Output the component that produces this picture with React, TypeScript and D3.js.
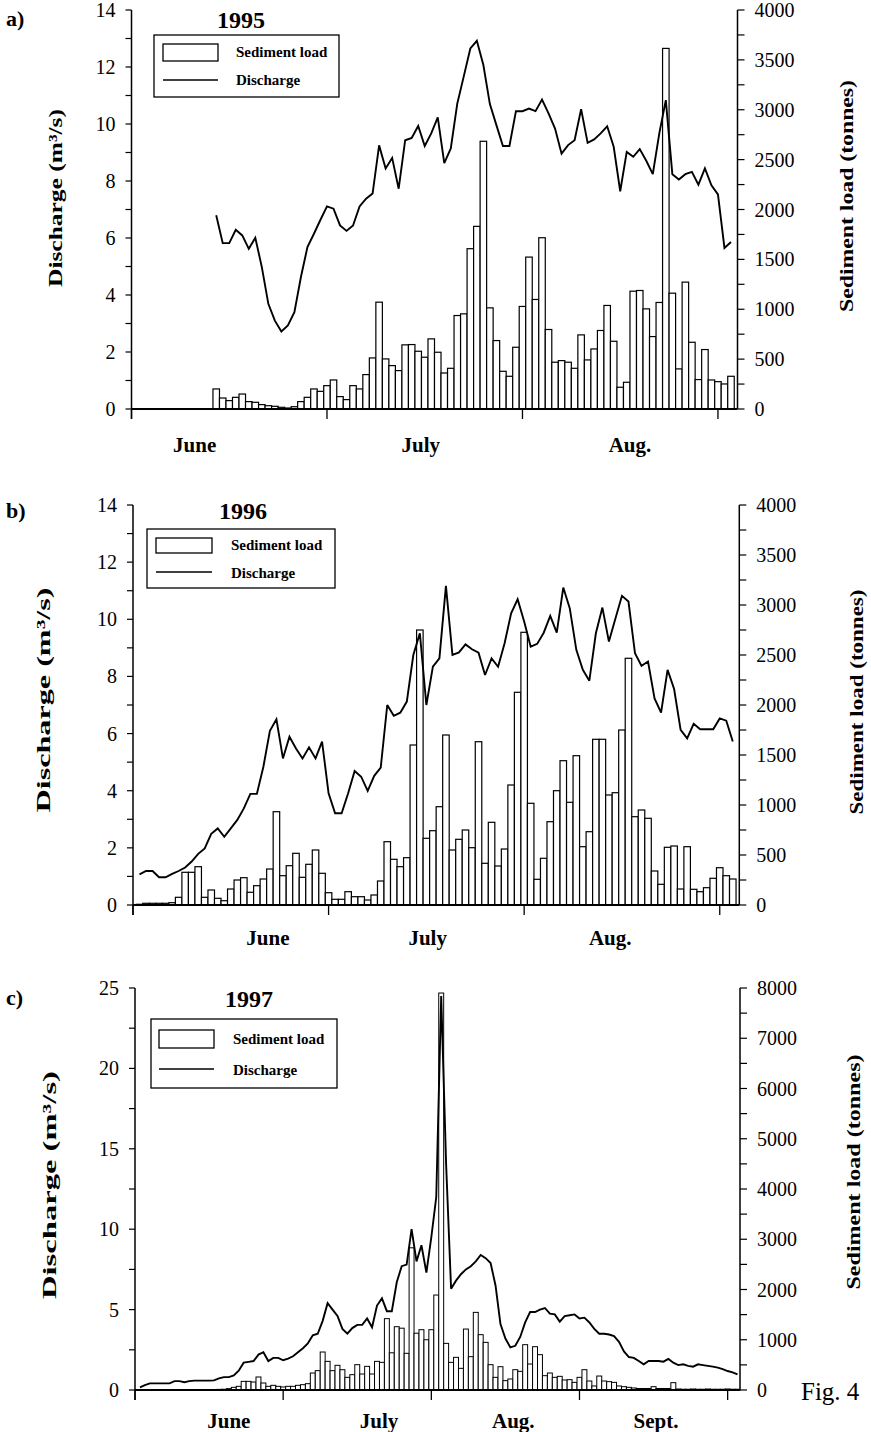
import React from "react";
import * as d3 from "d3";

// ---------- DATA ----------
// 1995: daily values, first bar = day 13 (day 0 = June 1)
const firstDay1995 = 13;
const sediment1995 = [
  201, 110, 84, 117, 150, 74, 67, 44, 33, 27, 17, 10, 23, 74, 117, 201, 177, 234, 291, 124,
  94, 234, 201, 345, 512, 1071, 502, 435, 385, 643, 646, 579, 519, 703, 569,
  361, 408, 937, 954, 1607, 1831, 2684, 1014, 686, 378, 328, 619, 1028, 1523, 1098,
  1717, 797, 469, 485, 469, 408, 743, 492, 602, 787, 1038, 679, 218, 268, 1181, 1188,
  1004, 726, 1068, 3615, 1161, 402, 1272, 669, 295, 596, 291, 274, 251, 328,
];
const discharge1995 = [
  6.8, 5.82, 5.82, 6.29, 6.09, 5.62, 6.01, 4.98, 3.69, 3.1, 2.72, 2.93, 3.4, 4.63, 5.68,
  6.15, 6.64, 7.11, 7.03, 6.44, 6.25, 6.44, 7.11, 7.38, 7.56, 9.25, 8.44, 8.81, 7.73, 9.43,
  9.51, 9.93, 9.23, 9.67, 10.23, 8.63, 9.14, 10.72, 11.68, 12.65, 12.92, 12.07, 10.7, 9.96,
  9.23, 9.23, 10.45, 10.45, 10.54, 10.45, 10.86, 10.37, 9.84, 8.96, 9.26, 9.43, 10.52, 9.34,
  9.46, 9.67, 9.92, 9.2, 7.64, 9.02, 8.85, 9.12, 8.71, 8.24, 9.67, 10.84, 8.24, 8.05, 8.24,
  8.32, 7.87, 8.44, 7.85, 7.53, 5.65, 5.86,
];

// 1996: first bar = day 1
const firstDay1996 = 1;
const sediment1996 = [
  7, 17, 17, 17, 17, 23, 77, 327, 327, 383, 77, 150, 67, 43, 160, 250, 273, 127, 193, 260,
  360, 933, 293, 393, 517, 277, 407, 550, 317, 123, 57, 57, 133, 83, 83, 50, 100, 240, 633, 457,
  383, 473, 1600, 2750, 667, 743, 983,
  1700, 550, 657, 750, 573, 1633, 417, 827, 390, 560, 1200, 2127, 2727, 1017, 257, 467, 833,
  1143, 1443, 1027, 1493, 583, 733, 1657, 1657, 1100, 1123, 1750, 2467, 883, 950, 867, 340,
  207, 577, 590, 160, 583, 157, 133, 173, 267, 373, 293, 260,
];
const discharge1996 = [
  1.07, 1.19, 1.19, 0.97, 0.97, 1.09, 1.19, 1.31, 1.52, 1.79, 1.98, 2.49, 2.68, 2.39, 2.68,
  2.98, 3.38, 3.89, 3.89, 4.84, 6.1, 6.5, 5.13, 5.89, 5.48, 5.13, 5.52, 5.13, 5.72, 3.91,
  3.21, 3.21, 3.91, 4.69, 4.49, 3.99, 4.52, 4.81, 7.0, 6.62, 6.73, 7.12, 8.75, 9.51, 7.0,
  8.34, 8.63, 11.17, 8.75, 8.84, 9.12, 8.95, 8.83, 8.05, 8.63, 8.34, 9.16, 10.21, 10.7, 9.92,
  9.04, 9.14, 9.53, 10.12, 9.53, 11.11, 10.38, 8.93, 8.23, 7.85, 9.51, 10.41, 9.22, 10.03,
  10.82, 10.62, 8.81, 8.37, 8.52, 7.23, 6.73, 8.23, 7.56, 6.13, 5.83, 6.34, 6.15, 6.15, 6.15,
  6.53, 6.45, 5.72,
];

// 1997: first bar = day 1
const firstDay1997 = 1;
const sediment1997 = [
  5, 5, 5, 5, 5, 5, 5, 5, 5, 5, 5, 5, 8, 8, 8, 10, 12, 15,
  27, 53, 73, 172, 172, 159, 259, 139, 73, 93, 73, 60,
  73, 73, 93, 106, 126, 338, 385, 756, 570, 385, 491, 404, 252, 305, 504, 318, 471, 318, 570, 550,
  1420, 740, 1260, 1230, 730, 2830, 1130, 1200, 1000, 1200, 1890, 7900,
  928, 550, 650, 431, 1213, 663, 1545, 1101, 948, 504, 252, 464, 186, 219, 404, 371, 902, 517,
  862, 703, 285, 338, 252, 272, 199, 206, 152, 252, 404,
  179, 80, 278, 179, 166, 152, 80, 66, 53, 40, 30, 30, 30, 66, 30, 30, 30, 146,
  20, 15, 15, 20, 15, 15, 20, 15, 15, 15, 20, 15, 15,
];
const discharge1997 = [
  0.17, 0.3, 0.41, 0.41, 0.41, 0.41, 0.41, 0.55, 0.55, 0.48,
  0.55, 0.58, 0.58, 0.58, 0.58, 0.6, 0.72, 0.8, 0.8, 0.9,
  1.2, 1.7, 1.75, 1.8, 2.2, 2.35, 1.8, 2.0, 2.0, 1.85,
  1.95, 2.1, 2.35, 2.6, 2.9, 3.4, 3.5, 4.3, 5.4, 5.0,
  4.6, 3.8, 3.5, 3.85, 4.05, 4.05, 4.45, 3.9, 5.25, 5.7,
  4.9, 4.9, 6.7, 7.7, 7.8, 10.0, 8.0, 9.0, 7.3, 9.5,
  12.0, 24.5, 14, 6.3, 6.8, 7.2, 7.5, 7.7, 8.0, 8.4,
  8.2, 7.9, 6.5, 4.1, 3.2, 2.65, 2.75, 3.3, 4.2, 4.85,
  4.85, 5.0, 5.1, 4.75, 4.7, 4.25, 4.6, 4.65, 4.7, 4.45,
  4.5, 4.2, 3.8, 3.5, 3.5, 3.45, 3.35, 3.0, 2.4, 2.05,
  2.0, 1.8, 1.6, 1.8, 1.8, 1.8, 1.76, 1.93, 1.7, 1.55,
  1.6, 1.5, 1.45, 1.6, 1.55, 1.5, 1.45, 1.39, 1.3, 1.18,
  1.1, 0.97,
];

const months3 = ["June", "July", "Aug."];
const months4 = ["June", "July", "Aug.", "Sept."];
const monthTicks3 = [0, 30, 60, 90];
const monthTicks4 = [0, 30, 60, 90, 120];
const leftLabels14 = [0, 2, 4, 6, 8, 10, 12, 14];
const rightLabels4000 = [0, 500, 1000, 1500, 2000, 2500, 3000, 3500, 4000];
const leftLabels25 = [0, 5, 10, 15, 20, 25];
const rightLabels8000 = [0, 1000, 2000, 3000, 4000, 5000, 6000, 7000, 8000];

// ---------- LAYOUT ----------
const FONT = "'Liberation Serif','Times New Roman',Times,serif";

const panels = [
  {
    id: "a", tag: "a)", tagY: 26, year: "1995",
    sediment: sediment1995, discharge: discharge1995, firstDay: firstDay1995,
    x0: 131.5, x1: 737.5, dayMax: 93, yTop: 10, yBot: 409,
    leftMax: 14, rightMax: 4000, leftMinor: 1, rightMinor: 250,
    leftLabels: leftLabels14, rightLabels: rightLabels4000,
    months: months3, monthTicks: monthTicks3, monthPos: [9.7, 44.4, 76.5], monthY: 452,
    legend: { bx: 154, by: 35, bw: 185, bh: 62, sx: 163, sy: 44, sw: 55, sh: 17, ly: 80, tx: 236, t1: 57, t2: 85 },
    yearX: 241, yearY: 28,
    leftTitle: { x: 55, y: 198, len: 178 }, rightTitle: { x: 846, y: 196, len: 232 },
    barStroke: 1.2,
  },
  {
    id: "b", tag: "b)", tagY: 518, year: "1996",
    sediment: sediment1996, discharge: discharge1996, firstDay: firstDay1996,
    x0: 133, x1: 739.3, dayMax: 93, yTop: 505, yBot: 905,
    leftMax: 14, rightMax: 4000, leftMinor: 1, rightMinor: 250,
    leftLabels: leftLabels14, rightLabels: rightLabels4000,
    months: months3, monthTicks: monthTicks3, monthPos: [20.7, 45.2, 73.2], monthY: 945,
    legend: { bx: 147, by: 529, bw: 188, bh: 59, sx: 156, sy: 538, sw: 56, sh: 15, ly: 572, tx: 231, t1: 550, t2: 578 },
    yearX: 243, yearY: 519,
    leftTitle: { x: 43, y: 700, len: 225 }, rightTitle: { x: 856, y: 702, len: 225 },
    barStroke: 1.2,
  },
  {
    id: "c", tag: "c)", tagY: 1005, year: "1997",
    sediment: sediment1997, discharge: discharge1997, firstDay: firstDay1997,
    x0: 135, x1: 740, dayMax: 122.5, yTop: 988, yBot: 1390,
    leftMax: 25, rightMax: 8000, leftMinor: 2.5, rightMinor: 500,
    leftLabels: leftLabels25, rightLabels: rightLabels8000,
    months: months4, monthTicks: monthTicks4, monthPos: [19.0, 49.4, 76.6, 105.5], monthY: 1428,
    legend: { bx: 151, by: 1019, bw: 186, bh: 69, sx: 159, sy: 1030, sw: 55, sh: 18, ly: 1069, tx: 233, t1: 1044, t2: 1075 },
    yearX: 249, yearY: 1007,
    leftTitle: { x: 49, y: 1185, len: 228 }, rightTitle: { x: 853, y: 1172, len: 235 },
    barStroke: 1.0,
  },
];

function Panel({ p }: { p: any }) {
  const x = d3.scaleLinear().domain([0, p.dayMax]).range([p.x0, p.x1]);
  const yL = d3.scaleLinear().domain([0, p.leftMax]).range([p.yBot, p.yTop]);
  const yR = d3.scaleLinear().domain([0, p.rightMax]).range([p.yBot, p.yTop]);
  const bw = x(1) - x(0);
  const lineGen = d3
    .line<number>()
    .x((_, i) => x(p.firstDay + i))
    .y((v) => yL(v));
  const leftMinor = d3.range(0, p.leftMax + 1e-9, p.leftMinor);
  const rightMinor = d3.range(0, p.rightMax + 1e-9, p.rightMinor);
  const L = p.legend;
  return (
    <g>
      {/* bars */}
      {p.sediment.map((v: number, i: number) => {
        const d = p.firstDay + i;
        return (
          <rect
            key={i}
            x={x(d - 0.5)}
            y={yR(v)}
            width={bw}
            height={Math.max(0, yR(0) - yR(v))}
            fill="#fff"
            stroke="#000"
            strokeWidth={p.barStroke}
          />
        );
      })}
      {/* discharge line */}
      <path d={lineGen(p.discharge) || ""} fill="none" stroke="#000" strokeWidth={1.9} strokeLinejoin="miter" strokeMiterlimit={3} />

      {/* axes lines */}
      <line x1={p.x0} x2={p.x0} y1={p.yTop} y2={p.yBot + 10} stroke="#000" strokeWidth={1.5} />
      <line x1={p.x1} x2={p.x1} y1={p.yTop} y2={p.yBot} stroke="#000" strokeWidth={1.5} />
      <line x1={p.x0} x2={p.x1} y1={p.yBot} y2={p.yBot} stroke="#000" strokeWidth={1.8} />

      {/* left ticks */}
      {leftMinor.map((v: number, i: number) => (
        <line key={"lt" + i} x1={p.x0 - 6} x2={p.x0} y1={yL(v)} y2={yL(v)} stroke="#000" strokeWidth={1.2} />
      ))}
      {p.leftLabels.map((v: number) => (
        <text key={"ll" + v} x={p.x0 - 16} y={yL(v)} dy="0.35em" textAnchor="end" fontSize={20} fontFamily={FONT}>
          {v}
        </text>
      ))}
      {/* right ticks */}
      {rightMinor.map((v: number, i: number) => (
        <line key={"rt" + i} x1={p.x1} x2={p.x1 + 7} y1={yR(v)} y2={yR(v)} stroke="#000" strokeWidth={1.2} />
      ))}
      {p.rightLabels.map((v: number) => (
        <text key={"rl" + v} x={p.x1 + 17} y={yR(v)} dy="0.35em" textAnchor="start" fontSize={20} fontFamily={FONT}>
          {v}
        </text>
      ))}
      {/* bottom ticks */}
      {p.monthTicks.map((d: number) => (
        <line key={"bt" + d} x1={x(d)} x2={x(d)} y1={p.yBot} y2={p.yBot + 10} stroke="#000" strokeWidth={1.3} />
      ))}
      {p.months.map((m: string, i: number) => (
        <text key={m} x={x(p.monthPos[i])} y={p.monthY} textAnchor="middle" fontSize={21} fontWeight="bold" fontFamily={FONT}>
          {m}
        </text>
      ))}

      {/* year */}
      <text x={p.yearX} y={p.yearY} textAnchor="middle" fontSize={24} fontWeight="bold" fontFamily={FONT}>
        {p.year}
      </text>
      {/* legend */}
      <rect x={L.bx} y={L.by} width={L.bw} height={L.bh} fill="#fff" stroke="#000" strokeWidth={1.3} />
      <rect x={L.sx} y={L.sy} width={L.sw} height={L.sh} fill="#fff" stroke="#000" strokeWidth={1.3} />
      <line x1={L.sx} x2={L.sx + L.sw} y1={L.ly} y2={L.ly} stroke="#000" strokeWidth={1.6} />
      <text x={L.tx} y={L.t1} fontSize={15} fontWeight="bold" fontFamily={FONT}>Sediment load</text>
      <text x={L.tx} y={L.t2} fontSize={15} fontWeight="bold" fontFamily={FONT}>Discharge</text>

      {/* panel tag */}
      <text x={6} y={p.tagY} fontSize={22} fontWeight="bold" fontFamily={FONT}>{p.tag}</text>

      {/* axis titles */}
      <text
        transform={`translate(${p.leftTitle.x},${p.leftTitle.y}) rotate(-90)`}
        textAnchor="middle"
        dominantBaseline="central"
        fontSize={19}
        fontWeight="bold"
        fontFamily={FONT}
        textLength={p.leftTitle.len}
        lengthAdjust="spacingAndGlyphs"
      >
        Discharge (m³/s)
      </text>
      <text
        transform={`translate(${p.rightTitle.x},${p.rightTitle.y}) rotate(-90)`}
        textAnchor="middle"
        dominantBaseline="central"
        fontSize={19}
        fontWeight="bold"
        fontFamily={FONT}
        textLength={p.rightTitle.len}
        lengthAdjust="spacingAndGlyphs"
      >
        Sediment load (tonnes)
      </text>
    </g>
  );
}

export default function App() {
  return (
    <svg
      width={871}
      height={1432}
      viewBox="0 0 871 1432"
      style={{ position: "absolute", left: 0, top: 0, display: "block", background: "#fff" }}
    >
      <rect x={0} y={0} width={871} height={1432} fill="#fff" />
      {panels.map((p) => (
        <Panel key={p.id} p={p} />
      ))}
      <text x={801} y={1400} fontSize={25} fontFamily={FONT}>Fig. 4</text>
    </svg>
  );
}
